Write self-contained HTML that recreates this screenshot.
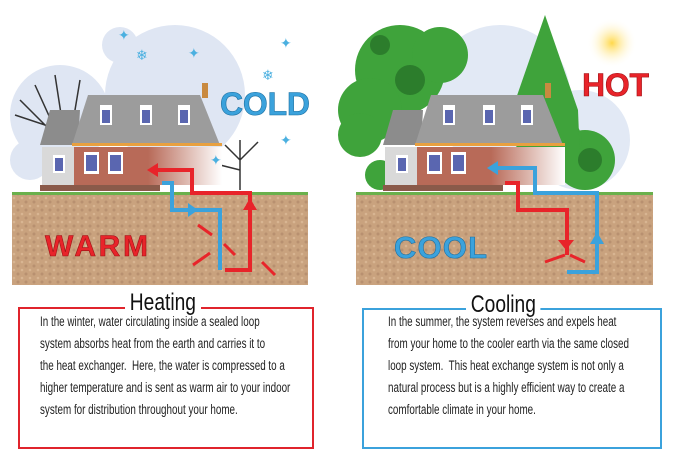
<!DOCTYPE html>
<html><head><meta charset="utf-8"><style>
body{margin:0;width:673px;height:456px;background:#fff;overflow:hidden;font-family:"Liberation Sans Narrow","Liberation Sans",sans-serif}
.t{position:absolute;font-size:13.5px;line-height:22px;color:#222;transform:scaleX(.73);transform-origin:0 0;white-space:nowrap}
.h{position:absolute;font-size:24px;background:#fff;padding:0 6px;color:#111;transform:scaleX(.8);transform-origin:0 0}
.box{position:absolute;border:2px solid}
</style></head><body>
<svg width="673" height="300" style="position:absolute;left:0;top:0" xmlns="http://www.w3.org/2000/svg">
<defs>
<pattern id="dirt" width="8" height="8" patternUnits="userSpaceOnUse"><rect width="8" height="8" fill="#c9a27e"/><circle cx="2" cy="2" r="1.5" fill="#b89070"/><circle cx="6" cy="6" r="1.3" fill="#d8b592"/></pattern>
<radialGradient id="sun"><stop offset="0" stop-color="#ffd84a"/><stop offset="1" stop-color="#fff" stop-opacity="0"/></radialGradient>
<linearGradient id="fade" x1="0" x2="1"><stop offset="0.5" stop-color="#b86a58"/><stop offset="1" stop-color="#fff"/></linearGradient>
</defs>
<g fill="#dfe6f3"><circle cx="120" cy="45" r="18"/><circle cx="175" cy="95" r="70"/><circle cx="60" cy="115" r="50"/><circle cx="30" cy="160" r="20"/></g>
<g fill="#e2e9f5"><circle cx="500" cy="95" r="70"/><circle cx="580" cy="140" r="50"/></g>
<circle cx="612" cy="43" r="25" fill="url(#sun)"/>
<g stroke="#333" stroke-width="1.5" fill="none"><path d="M60 140 L20 100 M60 140 L35 85 M65 140 L55 75 M70 140 L80 80 M60 130 L15 115"/><path d="M240 190 L240 140 M240 160 L225 145 M240 160 L258 142 M240 170 L220 165"/></g>
<g fill="#3fa33b"><circle cx="400" cy="70" r="45"/><circle cx="370" cy="110" r="32"/><circle cx="440" cy="55" r="28"/><circle cx="360" cy="135" r="22"/><circle cx="380" cy="175" r="15"/><circle cx="585" cy="160" r="30"/><circle cx="560" cy="140" r="22"/><polygon points="545,15 512,110 518,160 580,160 578,110"/></g>
<g fill="#2c7d2c"><circle cx="410" cy="80" r="15"/><circle cx="380" cy="45" r="10"/><circle cx="590" cy="160" r="12"/></g>
<rect x="12" y="193" width="296" height="92" fill="url(#dirt)"/>
<rect x="356" y="193" width="297" height="92" fill="url(#dirt)"/>
<rect x="12" y="192" width="296" height="3" fill="#6ab04c"/>
<rect x="356" y="192" width="297" height="3" fill="#6ab04c"/>
<g id="house">
<rect x="202" y="83" width="6" height="15" fill="#c98a40"/>
<polygon points="40,145 50,110 80,110 78,145" fill="#8c8c8c"/>
<polygon points="72,145 88,95 200,95 220,145" fill="#9c9c9c"/>
<rect x="72" y="143" width="150" height="3" fill="#e8a040"/>
<rect x="42" y="147" width="32" height="38" fill="#d9d9d9"/>
<rect x="74" y="147" width="148" height="38" fill="url(#fade)"/>
<rect x="40" y="185" width="120" height="6" fill="#8a5a4a"/>
<g fill="#fff"><rect x="100" y="105" width="12" height="20"/><rect x="140" y="105" width="12" height="20"/><rect x="178" y="105" width="12" height="20"/><rect x="84" y="152" width="15" height="22"/><rect x="108" y="152" width="15" height="22"/><rect x="53" y="155" width="12" height="18"/></g>
<g fill="#5a66b0"><rect x="102" y="110" width="8" height="13"/><rect x="142" y="110" width="8" height="13"/><rect x="180" y="110" width="8" height="13"/><rect x="86" y="155" width="11" height="16"/><rect x="110" y="155" width="11" height="16"/><rect x="55" y="158" width="8" height="13"/></g>
</g>
<use href="#house" x="343"/>
<g fill="none" stroke-width="4">
<path d="M155 170 H192 V193 H250 V270 H225" stroke="#e8242a"/>
<path d="M162 183 H172 V210 H220 V270" stroke="#3ba2dc"/>
<path d="M495 168 H535 V193 H597 V272 H567" stroke="#3ba2dc"/>
<path d="M505 183 H518 V210 H567 V255" stroke="#e8242a"/>
</g>
<g fill="#e8242a"><polygon points="147,170 158,163 158,177"/><polygon points="250,198 243,210 257,210"/><polygon points="566,250 558,240 574,240"/></g>
<g fill="#3ba2dc"><polygon points="487,168 498,161 498,175"/><polygon points="198,210 188,203 188,217"/><polygon points="597,232 590,244 604,244"/></g>
<g stroke="#e8242a" stroke-width="3"><path d="M198 225 L212 235 M193 265 L210 253 M235 255 L224 244 M275 275 L262 262 M565 255 L545 262 M570 255 L585 262"/></g>
<g fill="#4bb0e0" font-size="14"><text x="118" y="40">✦</text><text x="136" y="60">❄</text><text x="188" y="58">✦</text><text x="280" y="48">✦</text><text x="262" y="80">❄</text><text x="280" y="145">✦</text><text x="210" y="165">✦</text></g>
<g font-family="Liberation Sans" font-weight="bold">
<text x="220" y="115" font-size="32" fill="#3ba2dc" stroke="#1d6fa0" stroke-width=".6" textLength="90">COLD</text>
<text x="45" y="256" font-size="30" fill="#e8242a" stroke="#9c1014" stroke-width=".6" textLength="103">WARM</text>
<text x="582" y="96" font-size="32" fill="#e8242a" stroke="#9c1014" stroke-width=".6" textLength="67">HOT</text>
<text x="394" y="258" font-size="31" fill="#3ba2dc" stroke="#1d6fa0" stroke-width=".6" textLength="93">COOL</text>
</g>
</svg>
<div class="box" style="left:18px;top:307px;width:292px;height:138px;border-color:#e0242c"></div>
<div class="box" style="left:362px;top:308px;width:296px;height:137px;border-color:#3ba2dc"></div>
<div class="h" style="left:125px;top:289px">Heating</div>
<div class="h" style="left:466px;top:291px">Cooling</div>
<div class="t" style="left:40px;top:311px">In the winter, water circulating inside a sealed loop<br>system absorbs heat from the earth and carries it to<br>the heat exchanger.&nbsp; Here, the water is compressed to a<br>higher temperature and is sent as warm air to your indoor<br>system for distribution throughout your home.</div>
<div class="t" style="left:388px;top:311px">In the summer, the system reverses and expels heat<br>from your home to the cooler earth via the same closed<br>loop system.&nbsp; This heat exchange system is not only a<br>natural process but is a highly efficient way to create a<br>comfortable climate in your home.</div>
</body></html>
